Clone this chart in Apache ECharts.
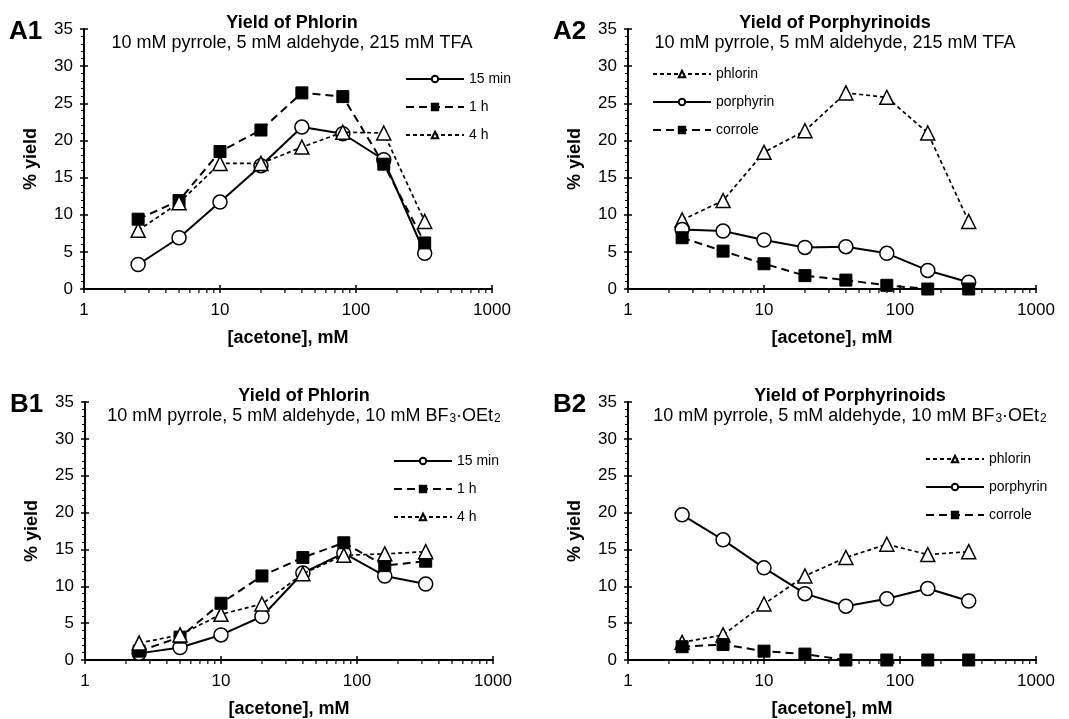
<!DOCTYPE html>
<html>
<head>
<meta charset="utf-8">
<script src="https://cdn.jsdelivr.net/npm/echarts@6/dist/echarts.min.js"></script>
<style>
  html, body { margin: 0; padding: 0; background: #fff; }
  #chart { width: 1069px; height: 719px; }
</style>
</head>
<body>
<div id="chart"></div>
<script>
// acetone concentrations (mM)
let acetone = [2.5, 5, 10, 20, 40, 80, 160, 320];

// A1 : phlorin yield, TFA
let a1_15min = [3.3, 6.9, 11.7, 16.6, 21.8, 20.9, 17.4, 4.8];
let a1_1h = [9.4, 11.9, 18.5, 21.4, 26.4, 25.9, 16.8, 6.2];
let a1_4h = [7.9, 11.6, 16.9, 16.9, 19.1, 21.1, 21.0, 9.1];

// A2 : porphyrinoids, TFA
let a2_phlorin = [9.3, 11.9, 18.4, 21.3, 26.4, 25.8, 21.0, 9.1];
let a2_porphyrin = [8.0, 7.8, 6.6, 5.6, 5.7, 4.8, 2.5, 0.9];
let a2_corrole = [6.9, 5.1, 3.4, 1.8, 1.2, 0.5, 0.0, 0.0];

// B1 : phlorin yield, BF3.OEt2
let b1_15min = [0.9, 1.7, 3.4, 5.9, 11.8, 14.5, 11.4, 10.3];
let b1_1h = [1.2, 3.1, 7.7, 11.4, 13.9, 15.9, 12.8, 13.4];
let b1_4h = [2.3, 3.4, 6.2, 7.6, 11.7, 14.2, 14.4, 14.7];

// B2 : porphyrinoids, BF3.OEt2
let b2_phlorin = [2.4, 3.4, 7.6, 11.4, 13.9, 15.7, 14.3, 14.7];
let b2_porphyrin = [19.7, 16.3, 12.5, 9.0, 7.3, 8.3, 9.7, 8.0];
let b2_corrole = [1.8, 2.1, 1.2, 0.8, 0.0, 0.0, 0.0, 0.0];

let xMinor = [2, 3, 4, 5, 6, 7, 8, 9, 20, 30, 40, 50, 60, 70, 80, 90, 200, 300, 400, 500, 600, 700, 800, 900];

let font = "'Liberation Sans', Arial, sans-serif";

// panel layout
let panels = [
  { label: "A1", title: "Yield of Phlorin", sub: "10 mM pyrrole, 5 mM aldehyde, 215 mM TFA",
    left: 84, top: 29, cx: 292, legLeft: 405, legTop: 72,
    names: ["15 min", "1 h", "4 h"], sets: [a1_15min, a1_1h, a1_4h], kinds: ["solid", "long", "short"] },
  { label: "A2", title: "Yield of Porphyrinoids", sub: "10 mM pyrrole, 5 mM aldehyde, 215 mM TFA",
    left: 628, top: 29, cx: 835, legLeft: 652, legTop: 67,
    names: ["phlorin", "porphyrin", "corrole"], sets: [a2_phlorin, a2_porphyrin, a2_corrole], kinds: ["short", "solid", "long"] },
  { label: "B1", title: "Yield of Phlorin", sub: "10 mM pyrrole, 5 mM aldehyde, 10 mM BF{s|3}·OEt{s|2}",
    left: 85, top: 402, cx: 304, legLeft: 393, legTop: 454,
    names: ["15 min", "1 h", "4 h"], sets: [b1_15min, b1_1h, b1_4h], kinds: ["solid", "long", "short"] },
  { label: "B2", title: "Yield of Porphyrinoids", sub: "10 mM pyrrole, 5 mM aldehyde, 10 mM BF{s|3}·OEt{s|2}",
    left: 628, top: 402, cx: 850, legLeft: 925, legTop: 452,
    names: ["phlorin", "porphyrin", "corrole"], sets: [b2_phlorin, b2_porphyrin, b2_corrole], kinds: ["short", "solid", "long"] },
];

let styles = {
  solid: { symbol: "circle", symbolSize: 14, line: { color: "#000", width: 2, type: "solid" },
           item: { color: "#fff", borderColor: "#000", borderWidth: 1.5 } },
  long: { symbol: "rect", symbolSize: 12, line: { color: "#000", width: 2, type: [8, 5] },
          item: { color: "#000", borderColor: "#000", borderWidth: 1 } },
  short: { symbol: "triangle", symbolSize: 14, line: { color: "#000", width: 1.7, type: [4, 3] },
           item: { color: "#fff", borderColor: "#000", borderWidth: 1.5 } },
};

let option = {
  backgroundColor: "#fff",
  animation: false,
  textStyle: { fontFamily: font, color: "#000" },
  grid: [], xAxis: [], yAxis: [], series: [], legend: [], title: [], graphic: [],
};

panels.forEach(function (p, i) {
  option.grid.push({ left: p.left, top: p.top, width: 408, height: 260 });

  // main x axis (log) + a copy that only draws the inward half of the major ticks
  option.xAxis.push({
    type: "log", logBase: 10, min: 1, max: 1000, gridIndex: i, position: "bottom",
    name: "[acetone], mM", nameLocation: "middle", nameGap: 40,
    nameTextStyle: { fontFamily: font, fontSize: 18, fontWeight: "bold", color: "#000" },
    axisLine: { lineStyle: { color: "#000", width: 2 } },
    axisTick: { length: 4, lineStyle: { color: "#000", width: 1.5 } },
    axisLabel: { fontFamily: font, fontSize: 17, color: "#000", margin: 13,
                 formatter: function (v) { return String(v); } },
    splitLine: { show: false },
  });
  option.xAxis.push({
    type: "log", logBase: 10, min: 1, max: 1000, gridIndex: i, position: "bottom",
    axisLine: { show: false },
    axisTick: { inside: true, length: 4, lineStyle: { color: "#000", width: 1.5 } },
    axisLabel: { show: false }, splitLine: { show: false },
  });

  option.yAxis.push({
    type: "value", min: 0, max: 35, interval: 5, gridIndex: i, position: "left",
    name: "% yield", nameLocation: "middle", nameGap: 44,
    nameTextStyle: { fontFamily: font, fontSize: 18, fontWeight: "bold", color: "#000" },
    axisLine: { show: true, lineStyle: { color: "#000", width: 2 } },
    axisTick: { show: true, length: 4, lineStyle: { color: "#000", width: 1.5 } },
    minorTick: { show: true, splitNumber: 5, length: 3, lineStyle: { color: "#000", width: 1 } },
    axisLabel: { fontFamily: font, fontSize: 17, color: "#000", margin: 11 },
    splitLine: { show: false },
  });
  option.yAxis.push({
    type: "value", min: 0, max: 35, interval: 5, gridIndex: i, position: "left", offset: 0,
    axisLine: { show: false },
    axisTick: { show: true, inside: true, length: 4, lineStyle: { color: "#000", width: 1.5 } },
    axisLabel: { show: false }, splitLine: { show: false },
  });

  // minor log ticks on the x axis
  option.series.push({
    type: "custom", xAxisIndex: 2 * i, yAxisIndex: 2 * i, silent: true, clip: false,
    data: xMinor.map(function (v) { return [v, 0]; }),
    renderItem: function (params, api) {
      let pt = api.coord([api.value(0), 0]);
      return { type: "line", shape: { x1: pt[0], y1: pt[1], x2: pt[0], y2: pt[1] + 4 },
               style: { stroke: "#000", lineWidth: 1.2 } };
    },
  });

  p.names.forEach(function (name, k) {
    let st = styles[p.kinds[k]];
    option.series.push({
      name: name, type: "line", xAxisIndex: 2 * i, yAxisIndex: 2 * i,
      data: acetone.map(function (x, j) { return [x, p.sets[k][j]]; }),
      symbol: st.symbol, symbolSize: st.symbolSize,
      lineStyle: st.line, itemStyle: st.item,
      z: 3 + k,
    });
  });

  option.legend.push({
    data: p.names, orient: "vertical", left: p.legLeft, top: p.legTop,
    padding: 0, itemGap: 14, itemWidth: 58, itemHeight: 8, selectedMode: false,
    textStyle: { fontFamily: font, fontSize: 14, color: "#000", lineHeight: 14 },
  });

  option.title.push({
    text: p.title, subtext: p.sub, left: p.cx, top: p.top - 15, textAlign: "center", itemGap: 2, padding: 0,
    textStyle: { fontFamily: font, fontSize: 18, fontWeight: "bold", color: "#000", lineHeight: 18 },
    subtextStyle: { fontFamily: font, fontSize: 18, color: "#000", lineHeight: 18,
                    rich: { s: { fontSize: 12, lineHeight: 8, verticalAlign: "bottom", color: "#000",
                                 fontFamily: font, padding: [0, 0, 0, 1] } } },
  });

  option.graphic.push({
    type: "text", left: p.left - 75, top: p.top - 10,
    style: { text: p.label, font: "bold 26px " + font, fill: "#000" },
  });
});

let chart = echarts.init(document.getElementById("chart"));
chart.setOption(option);
</script>
</body>
</html>
